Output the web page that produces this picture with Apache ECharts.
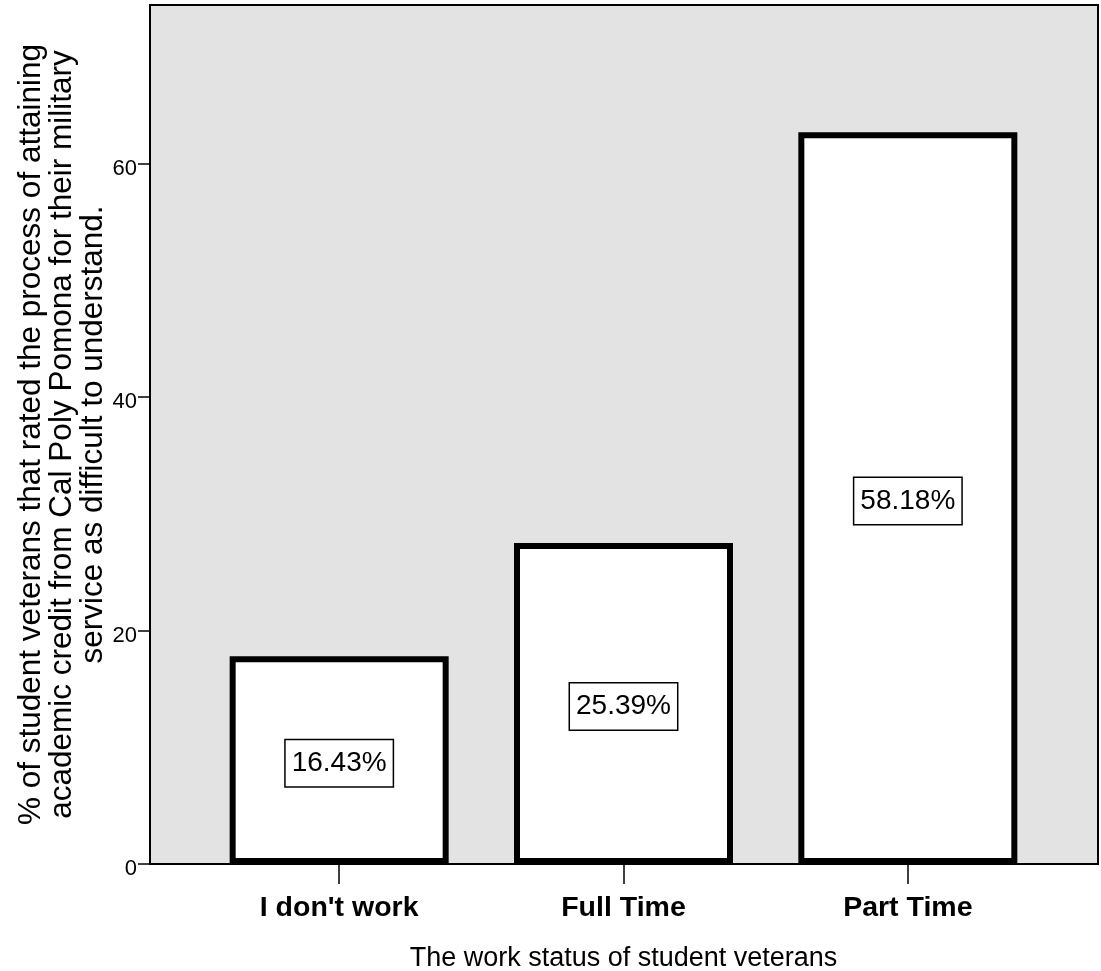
<!DOCTYPE html>
<html>
<head>
<meta charset="utf-8">
<script src="https://cdn.jsdelivr.net/npm/echarts@6/dist/echarts.min.js"></script>
<style>
html,body{margin:0;padding:0;background:#fff;}
#chart{width:1101px;height:971px;}
</style>
</head>
<body>
<div id="chart"></div>
<script>
const categories = ["I don't work", "Full Time", "Part Time"];
const barValues = [17.8, 27.5, 62.7];
const barLabels = ["16.43%", "25.39%", "58.18%"];
const yTickValues = [0, 20, 40, 60];
const yTitle = "% of student veterans that rated the process of attaining\nacademic credit from Cal Poly Pomona for their military\nservice as difficult to understand.";
const xTitle = "The work status of student veterans";

const font = "'Liberation Sans', Arial, sans-serif";

const chart = echarts.init(document.getElementById('chart'), null, {renderer: 'canvas'});
chart.setOption({
  animation: false,
  backgroundColor: '#ffffff',
  grid: [
    {left: 150, right: 3, top: 5, bottom: 107, show: true, backgroundColor: '#e3e3e3', borderColor: '#000', borderWidth: 2, containLabel: false, outerBoundsMode: 'none'},
    {left: 197, right: 51, top: 5, bottom: 107, containLabel: false, outerBoundsMode: 'none'}
  ],
  xAxis: [
    {gridIndex: 0, type: 'category', data: [''], show: false},
    {
      gridIndex: 1, type: 'category', data: categories,
      axisLine: {show: false},
      axisTick: {show: true, alignWithLabel: true, length: 20, lineStyle: {color: '#000', width: 1.5}},
      axisLabel: {color: '#000', fontFamily: font, fontWeight: 'bold', fontSize: 28.5, margin: 30},
      name: xTitle, nameLocation: 'middle', nameGap: 81, nameMoveOverlap: false,
      nameTextStyle: {color: '#000', fontFamily: font, fontSize: 27}
    }
  ],
  yAxis: [
    {gridIndex: 0, type: 'value', show: false},
    {
      gridIndex: 1, type: 'value', min: 0, max: 73.6, interval: 20, offset: 47,
      axisLine: {show: false},
      axisTick: {show: true, length: 12, lineStyle: {color: '#000', width: 1.5}, customValues: yTickValues},
      axisLabel: {
        color: '#000', fontFamily: font, fontSize: 22, margin: 13, customValues: yTickValues,
        verticalAlign: 'top', lineHeight: 10
      },
      splitLine: {show: false},
      name: yTitle, nameLocation: 'middle', nameGap: 41, nameMoveOverlap: false,
      nameTextStyle: {color: '#000', fontFamily: font, fontSize: 31.5, lineHeight: 31, align: 'center'}
    }
  ],
  series: [{
    type: 'bar', xAxisIndex: 1, yAxisIndex: 1,
    data: barValues, barWidth: 219,
    itemStyle: {color: '#ffffff', borderColor: '#000', borderWidth: 6},
    label: {
      show: true, position: 'inside', offset: [0, 3],
      formatter: p => barLabels[p.dataIndex],
      color: '#000', fontFamily: font, fontSize: 28, lineHeight: 36,
      backgroundColor: '#fff', borderColor: '#000', borderWidth: 1.5, padding: [5, 6]
    }
  }]
});
</script>
</body>
</html>
